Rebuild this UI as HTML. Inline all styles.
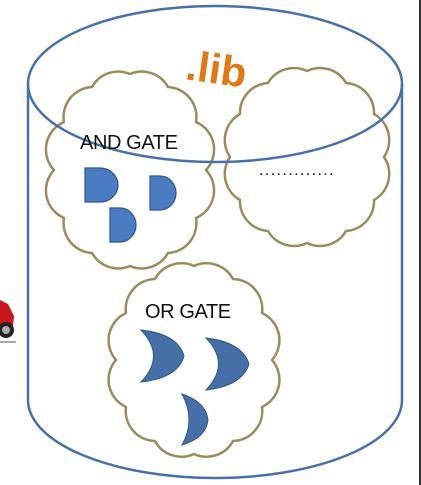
<!DOCTYPE html>
<html><head><style>
html,body{margin:0;padding:0;background:#fff;}
svg{display:block;}
</style></head><body>
<svg width="421" height="485" viewBox="0 0 421 485" xmlns="http://www.w3.org/2000/svg">
<rect width="421" height="485" fill="#fff"/>
<rect x="419" y="0" width="2" height="485" fill="#333"/>
<!-- motorcycle -->
<path d="M0 300 L8 304 L14 316 L13 326 L4 330 L0 330 Z" fill="#c8161c"/>
<circle cx="6" cy="330" r="8" fill="#222"/>
<circle cx="6" cy="330" r="4" fill="#aaa"/>
<line x1="0" y1="342" x2="16" y2="342" stroke="#555" stroke-width="1"/>
<!-- cylinder body -->
<path d="M28 84 L28 400 A187 78 0 0 0 402 400 L402 84" fill="#fff" stroke="#4a70a8" stroke-width="2.5"/>
<g fill="#fff" stroke="#9a8c5e" stroke-width="2.5" stroke-linejoin="round">
<path d="M206 170 A30 30 0 0 1 196 218 A30 30 0 0 1 168 253 A30 30 0 0 1 130 266 A30 30 0 0 1 92 253 A30 30 0 0 1 64 218 A30 30 0 0 1 54 170 A30 30 0 0 1 64 122 A30 30 0 0 1 92 87 A30 30 0 0 1 130 74 A30 30 0 0 1 168 87 A30 30 0 0 1 196 122 A30 30 0 0 1 206 170 Z"/>
<path d="M384 157 A30 30 0 0 1 374 200 A30 30 0 0 1 346 231 A30 30 0 0 1 307 243 A30 30 0 0 1 268 231 A30 30 0 0 1 240 200 A30 30 0 0 1 230 157 A30 30 0 0 1 240 114 A30 30 0 0 1 268 83 A30 30 0 0 1 307 71 A30 30 0 0 1 346 83 A30 30 0 0 1 374 114 A30 30 0 0 1 384 157 Z"/>
<path d="M272 360 A30 30 0 0 1 262 407 A30 30 0 0 1 233 441 A30 30 0 0 1 194 454 A30 30 0 0 1 155 441 A30 30 0 0 1 126 407 A30 30 0 0 1 116 360 A30 30 0 0 1 126 313 A30 30 0 0 1 155 279 A30 30 0 0 1 194 266 A30 30 0 0 1 233 279 A30 30 0 0 1 262 313 A30 30 0 0 1 272 360 Z"/>
</g>
<!-- top ellipse -->
<ellipse cx="215" cy="84" rx="187" ry="78" fill="none" stroke="#4a70a8" stroke-width="2.5"/>
<!-- .lib -->
<text x="186" y="84" transform="rotate(8 220 70)" font-family="Liberation Sans, sans-serif" font-weight="bold" font-size="42" fill="#e57612">.lib</text>
<!-- AND -->
<text x="80" y="149" font-family="Liberation Sans, sans-serif" font-size="20" fill="#111" letter-spacing="-0.4">AND GATE</text>
<g fill="#4a7cc2" stroke="#2f5590" stroke-width="1.2">
<path d="M85 168 L100 168 A18 17 0 0 1 100 202 L85 202 Z"/>
<path d="M150 176 L160 176 A16 17 0 0 1 160 210 L150 210 Z"/>
<path d="M110 208 L120 208 A16 17 0 0 1 120 242 L110 242 Z"/>
</g>
<text x="259" y="175" font-family="Liberation Sans, sans-serif" font-size="16" fill="#111" letter-spacing="1.4">.............</text>
<!-- OR -->
<text x="145" y="318" font-family="Liberation Sans, sans-serif" font-size="20" fill="#111" letter-spacing="-0.4">OR GATE</text>
<g fill="#466fa8" stroke="#2f5590" stroke-width="1">
<path d="M141 330 Q178 334 184 356 Q178 378 141 382 Q166 356 141 330 Z"/>
<path d="M206 338 Q242 342 249 364 Q242 386 206 390 Q231 364 206 338 Z"/>
<path d="M182 394 Q206 402 208 420 Q206 438 182 445 Q196 420 182 394 Z"/>
</g>
</svg>
</body></html>
